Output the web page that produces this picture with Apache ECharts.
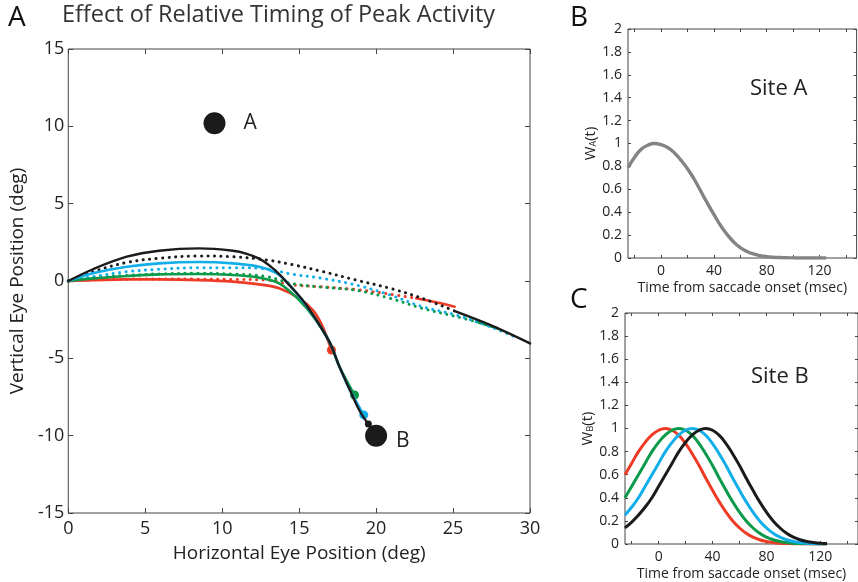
<!DOCTYPE html>
<html>
<head>
<meta charset="utf-8">
<script src="https://cdn.jsdelivr.net/npm/echarts@6/dist/echarts.min.js"></script>
<style>
html, body { margin: 0; padding: 0; background: #fff; }
#chart { width: 858px; height: 582px; }
</style>
</head>
<body>
<div id="chart"></div>
<script>
// Panel A – eye trajectories, [horizontal deg, vertical deg]
const solidRed = [[0,0],[1.6,0.06],[3.8,0.1],[5.9,0.1],[8.5,0.06],[10.7,-0.04],[12.4,-0.22],[13.7,-0.47],[15.0,-1.12],[15.9,-1.9],[16.5,-2.9],[17.1,-4.46]];
const solidGreen = [[0,0],[1.6,0.17],[3.8,0.32],[5.9,0.43],[8.5,0.45],[10.7,0.39],[12.4,0.22],[13.7,-0.15],[15.0,-1.23],[16.0,-2.4],[17.0,-4.0],[17.6,-5.5],[18.6,-7.37]];
const solidBlue = [[0,0],[1.6,0.5],[3.8,0.92],[5.9,1.14],[8.5,1.23],[10.7,1.14],[12.4,0.92],[13.7,0.39],[15.0,-1.0],[16.1,-2.5],[17.0,-4.0],[17.6,-5.5],[18.3,-7.05],[19.2,-8.66]];
const solidBlack = [[0,0],[1.6,0.76],[3.8,1.57],[5.9,1.96],[8.5,2.11],[10.7,1.96],[11.6,1.76],[12.4,1.45],[13.1,0.98],[13.7,0.45],[14.4,-0.3],[15.2,-1.2],[16.1,-2.5],[17.0,-4.0],[17.6,-5.5],[18.3,-7.05],[18.9,-8.34],[19.6,-9.42],[20,-10]];

const dotRed = [[0,0],[1.6,0.08],[3.8,0.12],[5.9,0.13],[8.5,0.12],[10.7,0.1],[12.9,0.06],[14.6,-0.25],[16.5,-0.38],[18.7,-0.55],[20.9,-0.85],[22.6,-1.12]];
const tailRed = [[22.6,-1.12],[23.9,-1.38],[25.1,-1.66]];
const dotGreen = [[0,0],[1.6,0.2],[3.8,0.36],[5.9,0.46],[8.5,0.5],[10.7,0.45],[12.9,0.28],[14.6,-0.18],[16.5,-0.4],[18.7,-0.6],[20.9,-1.12],[23.0,-1.77],[25.2,-2.3],[26.5,-2.63]];
const tailGreen = [[26.5,-2.63],[27.9,-3.06]];
const dotBlue = [[0,0],[1.6,0.28],[3.8,0.6],[5.9,0.76],[8.5,0.86],[10.7,0.86],[12.9,0.78],[14.5,0.45],[16.5,0.17],[18.7,-0.26],[20.9,-0.9],[23.0,-1.66],[25.2,-2.2],[27.4,-2.95],[29.0,-3.6]];
const dotBlack = [[0,0],[1.6,0.6],[3.8,1.2],[5.9,1.47],[8.5,1.62],[10.7,1.57],[12.9,1.36],[14.6,1.05],[16.5,0.62],[18.7,0.06],[20.9,-0.47],[23.0,-1.12],[25.2,-1.98]];
const tailBlack = [[25.2,-1.98],[27.4,-2.84],[30,-4.03]];

const endDots = [[17.1,-4.46],[18.6,-7.37],[19.2,-8.66],[19.5,-9.24]];
const targets = [{ name: 'A', value: [9.5, 10.2] }, { name: 'B', value: [20, -10] }];

// Panels B and C – weighting functions
const timeMs = [-25,-20,-15,-10,-5,0,5,10,15,20,25,30,35,40,45,50,55,60,65,70,75,80,85,90,95,100,105,110,115,120,125];
const wA = [0.79,0.88,0.95,0.985,1.0,0.99,0.965,0.92,0.855,0.78,0.69,0.585,0.48,0.38,0.285,0.205,0.14,0.09,0.057,0.035,0.021,0.012,0.007,0.004,0.002,0.001,0,0,0,0,0];
const wBred = [0.60,0.70,0.80,0.88,0.945,0.985,1.0,0.985,0.94,0.87,0.78,0.68,0.57,0.465,0.365,0.275,0.2,0.14,0.093,0.06,0.037,0.022,0.013,0.007,0.004,0.002,0.001,0,0,0,0];
const wBgreen = [0.40,0.50,0.60,0.70,0.80,0.88,0.945,0.985,1.0,0.985,0.94,0.87,0.78,0.68,0.57,0.465,0.365,0.275,0.2,0.14,0.093,0.06,0.037,0.022,0.013,0.007,0.004,0.002,0.001,0,0];
const wBblue = [0.25,0.32,0.40,0.50,0.60,0.70,0.80,0.88,0.945,0.985,1.0,0.985,0.94,0.87,0.78,0.68,0.57,0.465,0.365,0.275,0.2,0.14,0.093,0.06,0.037,0.022,0.013,0.007,0.004,0.002,0.001];
const wBblack = [0.14,0.19,0.25,0.32,0.40,0.50,0.60,0.70,0.80,0.88,0.945,0.985,1.0,0.985,0.94,0.87,0.78,0.68,0.57,0.465,0.365,0.275,0.2,0.14,0.093,0.06,0.037,0.022,0.013,0.007,0.004];

const timeTicks = [-20,0,20,40,60,80,100,120,140];
const timeLabels = [0,40,80,120];

const FONT = 'Open Sans';
const RED = '#ee3b26', GREEN = '#0b9a4a', BLUE = '#12aee9', BLACK = '#1b1b1b', GRAY = '#838383';

const pair = (xs, ys) => xs.map((x, i) => [x, ys[i]]);

function timeAxis(grid, pos, showLabel) {
  return {
    type: 'value', gridIndex: grid, position: pos, min: -25, max: 148,
    axisLine: { show: false, onZero: false },
    axisTick: { show: true, inside: true, length: 3, lineStyle: { color: '#444' }, customValues: timeTicks },
    axisLabel: { show: showLabel, customValues: timeLabels, fontFamily: FONT, fontSize: 14, color: '#222', margin: 6 },
    splitLine: { show: false },
    name: showLabel ? 'Time from saccade onset (msec)' : '',
    nameLocation: 'middle', nameGap: 23,
    nameTextStyle: { fontFamily: FONT, fontSize: 14, color: '#222' }
  };
}
function weightAxis(grid, pos, showLabel, sub) {
  return {
    type: 'value', gridIndex: grid, position: pos, min: 0, max: 2, interval: 0.2,
    axisLine: { show: false, onZero: false },
    axisTick: { show: true, inside: true, length: 3, lineStyle: { color: '#444' } },
    axisLabel: { show: showLabel, fontFamily: FONT, fontSize: 14, color: '#222', margin: 6 },
    splitLine: { show: false },
    name: showLabel ? '{w|W}{s|' + sub + '}{w|(t)}' : '',
    nameLocation: 'middle', nameGap: 30,
    nameTextStyle: {
      fontFamily: FONT, color: '#222',
      rich: { w: { fontFamily: FONT, fontSize: 15, color: '#222' }, s: { fontFamily: FONT, fontSize: 9, color: '#222', verticalAlign: 'bottom', padding: [6, 0, 0, 0] } }
    }
  };
}
function degAxis(pos, isX, showLabel) {
  return {
    type: 'value', gridIndex: 0, position: pos, min: isX ? 0 : -15, max: isX ? 30 : 15, interval: 5,
    axisLine: { show: false, onZero: false },
    axisTick: { show: true, inside: true, length: 5, lineStyle: { color: '#444' } },
    axisLabel: { show: showLabel, fontFamily: FONT, fontSize: 18, color: '#222', margin: isX ? 7 : 4 },
    splitLine: { show: false },
    name: showLabel ? (isX ? 'Horizontal Eye Position (deg)' : 'Vertical Eye Position (deg)') : '',
    nameLocation: 'middle', nameGap: isX ? 31 : 36,
    nameTextStyle: { fontFamily: FONT, fontSize: 19, color: '#222' }
  };
}
function line(data, color, dotted, width) {
  return {
    type: 'line', xAxisIndex: 0, yAxisIndex: 0, data: data, smooth: 0.35,
    showSymbol: false, symbol: 'none', silent: true, clip: true,
    lineStyle: dotted
      ? { color: color, width: 3, type: [0.1, 6.4], cap: 'round' }
      : { color: color, width: width || 2.6, cap: 'round' }
  };
}
function wLine(grid, data, color, width) {
  return {
    type: 'line', xAxisIndex: grid === 1 ? 2 : 4, yAxisIndex: grid === 1 ? 2 : 4,
    data: data, smooth: 0.5, showSymbol: false, symbol: 'none', silent: true,
    lineStyle: { color: color, width: width, join: 'round' }
  };
}

const chart = echarts.init(document.getElementById('chart'), null, { renderer: 'canvas' });
chart.setOption({
  animation: false,
  backgroundColor: '#fff',
  grid: [
    { left: 68, top: 49, width: 462, height: 464, show: true, borderColor: '#444', borderWidth: 1 },
    { left: 628, top: 29, width: 228.6, height: 229, show: true, borderColor: '#444', borderWidth: 1 },
    { left: 625, top: 313, width: 233, height: 232, show: true, borderColor: '#444', borderWidth: 1 }
  ],
  xAxis: [degAxis('bottom', true, true), degAxis('top', true, false),
          timeAxis(1, 'bottom', true), timeAxis(1, 'top', false),
          timeAxis(2, 'bottom', true), timeAxis(2, 'top', false)],
  yAxis: [degAxis('left', false, true), degAxis('right', false, false),
          weightAxis(1, 'left', true, 'A'), weightAxis(1, 'right', false, 'A'),
          weightAxis(2, 'left', true, 'B'), weightAxis(2, 'right', false, 'B')],
  graphic: [
    { type: 'text', left: 8, top: 4, style: { text: 'A', fontFamily: FONT, fontSize: 28, fill: '#111' } },
    { type: 'text', left: 62, top: 3, style: { text: 'Effect of Relative Timing of Peak Activity', fontFamily: FONT, fontSize: 23.5, fill: '#333' } },
    { type: 'text', left: 570, top: 4, style: { text: 'B', fontFamily: FONT, fontSize: 28, fill: '#111' } },
    { type: 'text', left: 570, top: 286, style: { text: 'C', fontFamily: FONT, fontSize: 28, fill: '#111' } },
    { type: 'text', left: 750, top: 78, style: { text: 'Site A', fontFamily: FONT, fontSize: 22, fill: '#222' } },
    { type: 'text', left: 751, top: 366, style: { text: 'Site B', fontFamily: FONT, fontSize: 22, fill: '#222' } }
  ],
  series: [
    line(dotRed, RED, true), line(tailRed, RED, false),
    line(dotGreen, GREEN, true), line(tailGreen, GREEN, false, 3),
    line(dotBlue, BLUE, true),
    line(dotBlack, BLACK, true), line(tailBlack, BLACK, false),
    line(solidRed, RED, false, 2.8), line(solidGreen, GREEN, false), line(solidBlue, BLUE, false), line(solidBlack, BLACK, false, 2.4),
    {
      type: 'scatter', xAxisIndex: 0, yAxisIndex: 0, silent: true, symbolSize: 9,
      itemStyle: { opacity: 1 },
      data: endDots.map((p, i) => ({ value: p, itemStyle: { color: [RED, GREEN, BLUE, BLACK][i], opacity: 1 }, symbolSize: i === 3 ? 7 : 9 }))
    },
    {
      type: 'scatter', xAxisIndex: 0, yAxisIndex: 0, silent: true, symbolSize: 22,
      itemStyle: { color: BLACK, opacity: 1 },
      label: { show: true, formatter: '{b}', position: 'right', fontFamily: FONT, fontSize: 21, color: '#222' },
      data: [
        { name: targets[0].name, value: targets[0].value, label: { distance: 18 } },
        { name: targets[1].name, value: targets[1].value, label: { distance: 9, offset: [0, 5] } }
      ]
    },
    wLine(1, pair(timeMs, wA), GRAY, 3.4),
    wLine(2, pair(timeMs, wBred), RED, 3),
    wLine(2, pair(timeMs, wBgreen), GREEN, 3),
    wLine(2, pair(timeMs, wBblue), BLUE, 3),
    wLine(2, pair(timeMs, wBblack), BLACK, 3)
  ]
});
</script>
</body>
</html>
